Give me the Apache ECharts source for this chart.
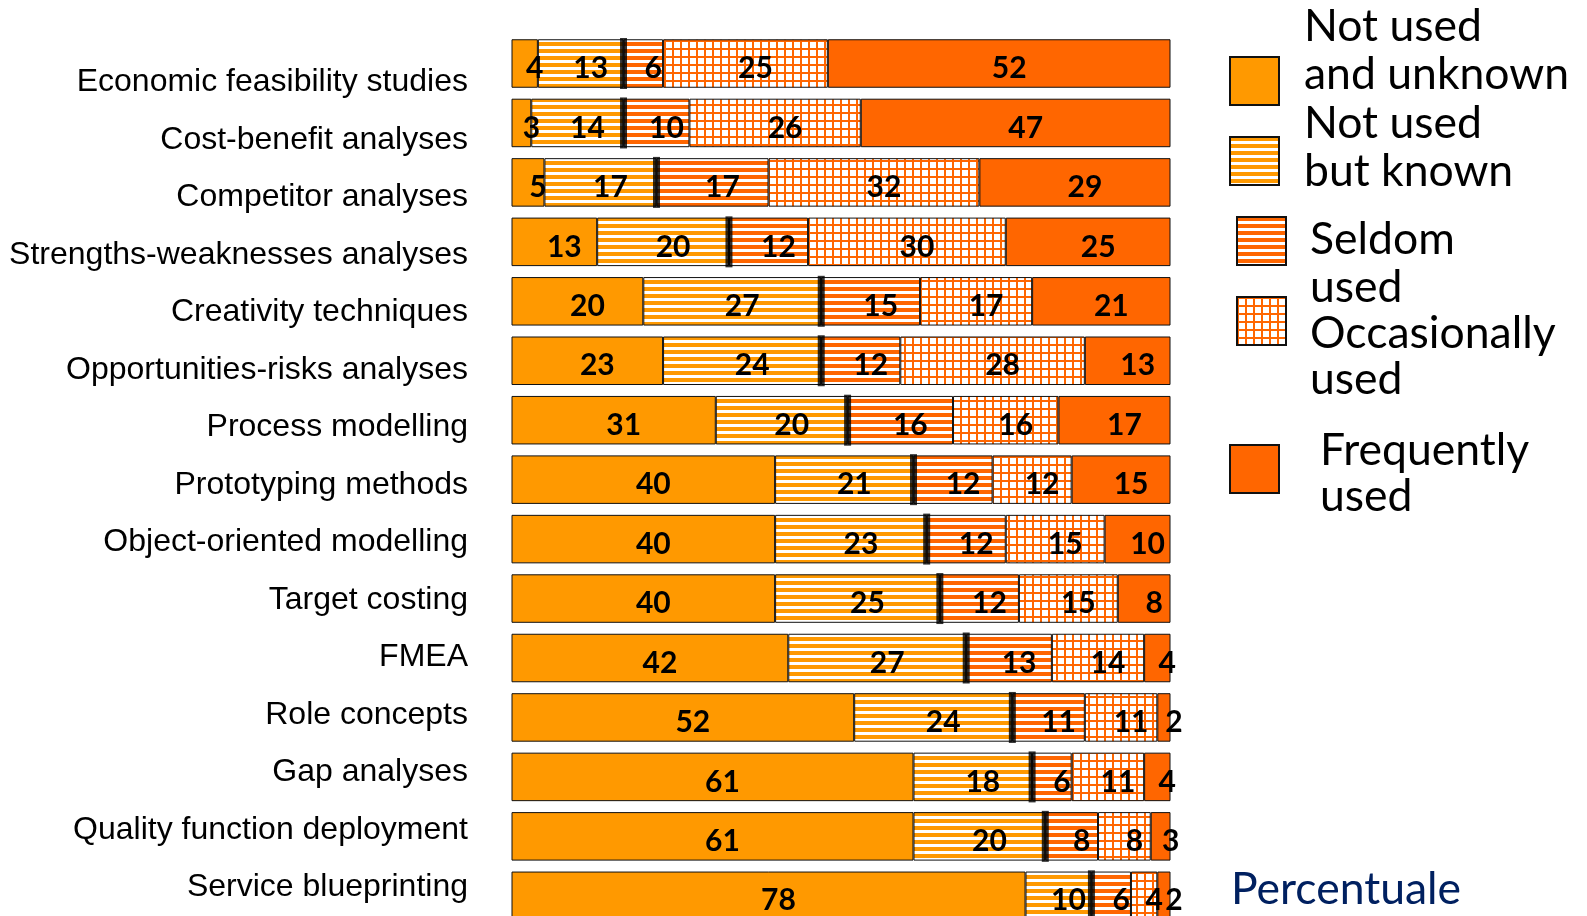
<!DOCTYPE html>
<html>
<head>
<meta charset="utf-8">
<script src="https://cdn.jsdelivr.net/npm/echarts@6/dist/echarts.min.js"></script>
<style>
  html, body { margin: 0; padding: 0; background: #fff; }
  #chart { width: 1587px; height: 916px; }
</style>
</head>
<body>
<div id="chart"></div>
<script>
const categories = [
  'Economic feasibility studies',
  'Cost-benefit analyses',
  'Competitor analyses',
  'Strengths-weaknesses analyses',
  'Creativity techniques',
  'Opportunities-risks analyses',
  'Process modelling',
  'Prototyping methods',
  'Object-oriented modelling',
  'Target costing',
  'FMEA',
  'Role concepts',
  'Gap analyses',
  'Quality function deployment',
  'Service blueprinting'
];
const seriesNames = ['Not used and unknown', 'Not used but known', 'Seldom used', 'Occasionally used', 'Frequently used'];
const legendLines = [
  ['Not used', 'and unknown'],
  ['Not used', 'but known'],
  ['Seldom', 'used'],
  ['Occasionally', 'used'],
  ['Frequently', 'used']
];
const notUsedUnknown   = [4, 3, 5, 13, 20, 23, 31, 40, 40, 40, 42, 52, 61, 61, 78];
const notUsedKnown     = [13, 14, 17, 20, 27, 24, 20, 21, 23, 25, 27, 24, 18, 20, 10];
const seldomUsed       = [6, 10, 17, 12, 15, 12, 16, 12, 12, 12, 13, 11, 6, 8, 6];
const occasionallyUsed = [25, 26, 32, 30, 17, 28, 16, 12, 15, 15, 14, 11, 11, 8, 4];
const frequentlyUsed   = [52, 47, 29, 25, 21, 13, 17, 15, 10, 8, 4, 2, 4, 3, 2];
const footnote = 'Percentuale';

const ORANGE = '#FF9900';
const DARK = '#FF6600';

function hStripes(color) {
  const c = document.createElement('canvas');
  c.width = 8; c.height = 7;
  const g = c.getContext('2d');
  g.fillStyle = '#fff'; g.fillRect(0, 0, 8, 7);
  g.fillStyle = color; g.fillRect(0, 0, 8, 4);
  return { image: c, repeat: 'repeat' };
}
function gridPat(color) {
  const c = document.createElement('canvas');
  c.width = 8; c.height = 8;
  const g = c.getContext('2d');
  g.fillStyle = '#fff'; g.fillRect(0, 0, 8, 8);
  g.fillStyle = color; g.fillRect(0, 0, 2, 8); g.fillRect(0, 0, 8, 2);
  return { image: c, repeat: 'repeat' };
}

const fills = [ORANGE, hStripes(ORANGE), hStripes(DARK), gridPat(DARK), DARK];
const values = [notUsedUnknown, notUsedKnown, seldomUsed, occasionallyUsed, frequentlyUsed];

const chart = echarts.init(document.getElementById('chart'));

const barSeries = seriesNames.map((name, k) => ({
  name: name,
  type: 'bar',
  stack: 'total',
  xAxisIndex: 0,
  yAxisIndex: 0,
  barWidth: 48.5,
  data: values[k],
  itemStyle: { color: fills[k], borderColor: '#111', borderWidth: 1 },
  label: {
    show: true,
    position: 'inside',
    offset: [10, 5],
    color: '#000',
    fontFamily: 'Lato',
    fontWeight: 'bold',
    fontSize: 30
  },
  emphasis: { disabled: true },
  animation: false
}));

const separator = {
  name: 'separator',
  type: 'scatter',
  xAxisIndex: 0,
  yAxisIndex: 0,
  symbol: 'rect',
  symbolSize: [7, 51],
  itemStyle: { color: '#000' },
  z: 10,
  silent: true,
  data: categories.map((c, i) => [notUsedUnknown[i] + notUsedKnown[i], i]),
  animation: false
};

// legend icon boxes (one legend component per entry) and text placement
const legendSpec = [
  { left: 1229, top: 56, textLeft: 1304, textTop: 3, lh: 48 },
  { left: 1229, top: 136, textLeft: 1304, textTop: 100, lh: 48 },
  { left: 1236, top: 216, textLeft: 1310, textTop: 216, lh: 48 },
  { left: 1236, top: 296, textLeft: 1310, textTop: 311, lh: 46 },
  { left: 1229, top: 444, textLeft: 1320, textTop: 428, lh: 46 }
];

const legends = legendSpec.map((s, k) => ({
  data: [seriesNames[k]],
  left: s.left,
  top: s.top,
  padding: 0,
  icon: 'rect',
  itemWidth: 49,
  itemHeight: 48,
  selectedMode: false,
  formatter: () => '',
  textStyle: { fontSize: 1 }
}));

const legendTexts = legendSpec.map((s, k) => ({
  type: 'text',
  left: s.textLeft,
  top: s.textTop,
  silent: true,
  style: {
    text: legendLines[k].join('\n'),
    fill: '#000',
    font: '44.5px Lato',
    lineHeight: s.lh
  }
}));

chart.setOption({
  backgroundColor: '#fff',
  animation: false,
  legend: legends,
  grid: [
    { left: 511.5, width: 659, top: 63.5, height: 832.3 },
    { left: 470, width: 1, top: 82.2, height: 805 }
  ],
  xAxis: [
    { type: 'value', gridIndex: 0, min: 0, max: 100, show: false },
    { type: 'value', gridIndex: 1, min: 0, max: 1, show: false }
  ],
  yAxis: [
    { type: 'category', gridIndex: 0, data: categories, inverse: true, boundaryGap: false, show: false },
    {
      type: 'category', gridIndex: 1, data: categories, inverse: true, boundaryGap: false,
      axisLine: { show: false }, axisTick: { show: false }, splitLine: { show: false },
      axisLabel: { color: '#000', fontFamily: 'Liberation Sans', fontSize: 32, margin: 2 }
    }
  ],
  graphic: [
    ...legendTexts,
    {
      type: 'text',
      left: 1231,
      top: 867,
      silent: true,
      style: { text: footnote, fill: '#002060', font: '44.5px Lato' }
    }
  ],
  series: [...barSeries, separator]
});
</script>
</body>
</html>
